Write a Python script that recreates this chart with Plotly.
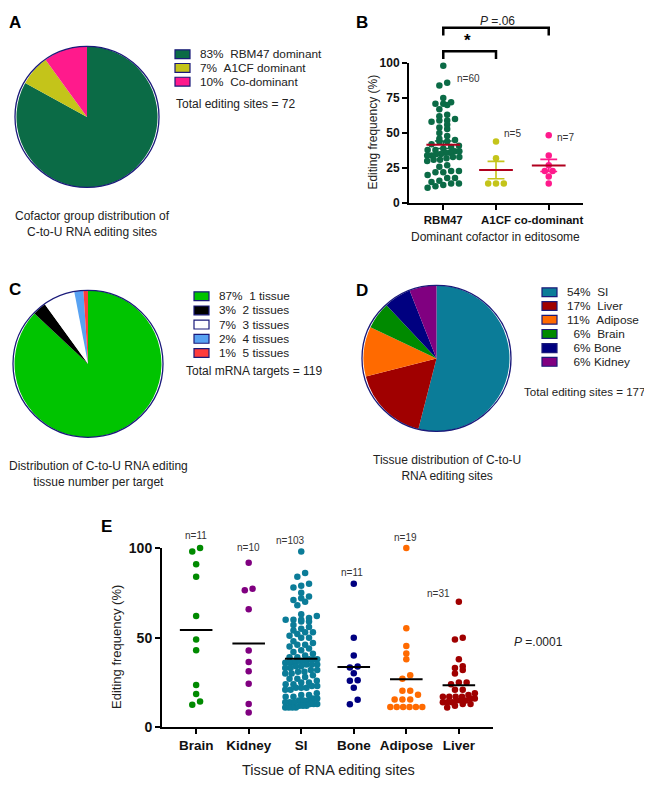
import numpy as np
import plotly.graph_objects as go

W, H = 652, 789
OFF = 8  # page body margin: the figure is drawn 8px right/down of the page corner
FONT = "Liberation Sans, Arial, sans-serif"

# A: cofactor group distribution
cofactor_groups = ["RBM47 dominant", "A1CF dominant", "Co-dominant"]
cofactor_pct = [83, 7, 10]
cofactor_colors = ["#0b6b46", "#c4c41a", "#ff1a8c"]
cofactor_total = 72

# B: editing frequency by dominant cofactor
b_categories = ["RBM47", "A1CF", "co-dominant"]
b_rbm47 = [98, 86, 84, 75, 72, 71, 71, 70, 67, 63,
           62, 60, 59, 59, 58, 56, 54, 53, 50, 48,
           46, 45, 44, 44, 42, 41, 40, 39, 38, 38,
           37, 37, 36, 36, 35, 35, 34, 34, 33, 33,
           32, 31, 31, 30, 27, 26, 23, 23, 22, 22,
           20, 18, 18, 16, 15, 14, 14, 13, 12, 11]
b_a1cf = [44, 32, 14, 14, 14]
b_codom = [48.5, 34, 27, 23, 23, 19, 14]
b_colors = ["#0b6b46", "#c4c41a", "#ff1a8c"]
b_ntext = ["n=60", "n=5", "n=7"]

# C: number of tissues per target
tissue_count_labels = ["1 tissue", "2 tissues", "3 tissues", "4 tissues", "5 tissues"]
tissue_count_pct = [87, 3, 7, 2, 1]
tissue_count_colors = ["#00c400", "#000000", "#ffffff", "#58a2f2", "#ff3c3c"]
mrna_total = 119

# D: tissue distribution
tissues = ["SI", "Liver", "Adipose", "Brain", "Bone", "Kidney"]
tissue_pct = [54, 17, 11, 6, 6, 6]
tissue_legend = ["54%\u00a0\u00a0SI", "17%\u00a0\u00a0Liver", "11%\u00a0\u00a0Adipose",
                 "\u00a0\u00a06%\u00a0\u00a0Brain", "\u00a0\u00a06%\u00a0Bone", "\u00a0\u00a06%\u00a0Kidney"]
tissue_colors = {"SI": "#0b7c98", "Liver": "#a00000", "Adipose": "#ff6a00",
                 "Brain": "#008a00", "Bone": "#000080", "Kidney": "#800080"}
sites_total = 177

# E: editing frequency by tissue
e_categories = ["Brain", "Kidney", "SI", "Bone", "Adipose", "Liver"]
e_brain = [100, 98, 91, 84, 62, 49, 43, 23.6, 18.6, 14.4, 12.6]
e_kidney = [91.8, 77.3, 76.4, 65.8, 42.8, 36.4, 31.3, 24.3, 13, 8.2]
e_si = [98, 86, 84, 80, 79, 78, 75, 73, 72, 71, 70, 68,
        63, 62, 61, 60, 60, 60, 59, 59,
        57, 56, 55, 54, 53, 53, 52, 51, 50, 50,
        48, 47, 46, 46, 45, 44, 43, 42, 41, 40,
        39, 39, 38, 38, 38, 37, 37, 37, 36, 36, 36, 35, 35, 35, 34, 34, 33, 33, 32, 32, 31, 31, 30, 30,
        29, 28, 27, 27, 26, 25, 25, 24, 24, 23, 23, 22, 22, 21, 21, 22,
        19, 18, 18, 17, 17, 16, 16, 15, 15, 15, 14, 14, 14, 13, 13, 13, 12, 12, 12, 11, 11, 11, 11]
e_bone = [80, 50, 40, 33.9, 33.3, 30.2, 26.2, 25.9, 22, 15.3, 12.9]
e_adipose = [100, 55.2, 45.4, 41.2, 38, 29, 27, 20.4, 20.4, 18.2,
             15.5, 15.5, 15.5, 11.3, 11.3, 11.3, 11.3, 11.3, 11.3]
e_liver = [70, 50, 49, 38, 34, 33, 32, 30, 25, 25,
           24, 21, 21, 19, 18, 17, 17, 17, 17, 16,
           16, 15, 15, 15, 14, 14, 14, 13, 13, 12, 11]
e_ntext = ["n=11", "n=10", "n=103", "n=11", "n=19", "n=31"]


def fx(x):
    return (x - OFF) / W


def fy(y):
    return 1 - (y - OFF) / H


def swarm(values, px_unit, px_cat, dot=6.5, half=16):
    """Row-wise scatter offsets (in category units), GraphPad style."""
    vals = np.asarray(values, float)
    order = np.argsort(vals)
    offs = np.zeros(len(vals))
    groups, cur, start = [], [], None
    for i in order:
        y = vals[i] * px_unit
        if start is None or y - start > dot * 0.8:
            if cur:
                groups.append(cur)
            cur, start = [i], y
        else:
            cur.append(i)
    groups.append(cur)
    for g in groups:
        k = len(g)
        if k > 1:
            step = min(dot + 1.3, 2 * half / (k - 1))
            offs[g] = (np.arange(k) - (k - 1) / 2) * step
    return offs / px_cat


fig = go.Figure()

# ---- pies
pie_common = dict(sort=False, direction="clockwise", rotation=0, textinfo="none",
                  showlegend=False, marker_line_width=0)
fig.add_trace(go.Pie(values=cofactor_pct, labels=cofactor_groups,
                     marker_colors=cofactor_colors,
                     domain=dict(x=[fx(15), fx(159)], y=[fy(183), fy(39)]), **pie_common))
fig.add_trace(go.Pie(values=tissue_count_pct, labels=tissue_count_labels,
                     marker_colors=tissue_count_colors,
                     domain=dict(x=[fx(13), fx(163)], y=[fy(438), fy(288)]), **pie_common))
fig.add_trace(go.Pie(values=tissue_pct, labels=tissues,
                     marker_colors=[tissue_colors[t] for t in tissues],
                     domain=dict(x=[fx(362), fx(511)], y=[fy(432), fy(283)]), **pie_common))

shapes = []
for x0, y0, x1, y1 in [(15, 39, 159, 183), (13, 288, 163, 438), (362, 283, 511, 432)]:
    shapes.append(dict(type="circle", xref="paper", yref="paper",
                       x0=fx(x0), x1=fx(x1), y0=fy(y1), y1=fy(y0),
                       line=dict(color="#1a1a7a", width=1.3)))

annotations = []


def txt(x, y, text, size=12, anchor="left", color="#222", **kw):
    annotations.append(dict(x=fx(x), y=fy(y), xref="paper", yref="paper", text=text,
                            showarrow=False, xanchor=anchor, yanchor="middle", borderpad=0,
                            font=dict(family=FONT, size=size, color=color), **kw))


def legend(x_box, x_text, rows_y, colors, labels):
    for y, c, lab in zip(rows_y, colors, labels):
        shapes.append(dict(type="rect", xref="paper", yref="paper",
                           x0=fx(x_box), x1=fx(x_box + 15), y0=fy(y + 4.5), y1=fy(y - 4.5),
                           fillcolor=c, line=dict(color="#1a1a7a", width=1.2)))
        txt(x_text, y, lab, size=11.8)


legend(175, 199, [47, 61, 75], cofactor_colors,
       [f"{p}%\u00a0\u00a0{g}" for p, g in zip(cofactor_pct, cofactor_groups)])
txt(175, 98, f"Total editing sites = {cofactor_total}")

legend(194, 218, [294, 308.5, 323, 337.5, 352], tissue_count_colors,
       [f"{p}%\u00a0\u00a0{g}" for p, g in zip(tissue_count_pct, tissue_count_labels)])
txt(185, 370, f"Total mRNA targets = {mrna_total}")

legend(542, 566, [290, 304, 318, 332.5, 347, 361], [tissue_colors[t] for t in tissues], tissue_legend)
txt(523, 391, f"Total editing sites = {sites_total}", size=11.6)

# captions
txt(92, 220, "Cofactor group distribution of<br>C-to-U RNA editing sites", anchor="center")
txt(98, 475, "Distribution of C-to-U RNA editing<br>tissue number per target", anchor="center")
txt(447, 469, "Tissue distribution of C-to-U<br>RNA editing sites", anchor="center")

# panel letters
for lx, ly, lt in [(8, 15, "A"), (355, 15, "B"), (8, 287, "C"), (355, 288, "D"), (100, 529, "E")]:
    txt(lx, ly, f"<b>{lt}</b>", size=17, color="#000")


# ---- scatter panels
def dot_panel(groups, colors, xa, ya, px_unit, px_cat, mean_color, mean_half, show_sem):
    for i, (vals, col) in enumerate(zip(groups, colors)):
        vals = np.asarray(vals, float)
        offs = swarm(vals, px_unit, px_cat)
        fig.add_trace(go.Scatter(x=i + offs, y=vals, mode="markers", xaxis=xa, yaxis=ya,
                                 marker=dict(size=6.5, color=col), cliponaxis=False,
                                 showlegend=False))
        m = vals.mean()
        if show_sem:
            s = vals.std(ddof=1) / np.sqrt(len(vals))
            c = 0.16
            fig.add_trace(go.Scatter(
                x=[i - c, i + c, None, i, i, None, i - c, i + c],
                y=[m + s, m + s, None, m + s, m - s, None, m - s, m - s],
                mode="lines", line=dict(color=col, width=1.6), xaxis=xa, yaxis=ya,
                showlegend=False, hoverinfo="skip"))
        fig.add_trace(go.Scatter(x=[i - mean_half, i + mean_half], y=[m, m], mode="lines",
                                 line=dict(color=mean_color, width=2), xaxis=xa, yaxis=ya,
                                 showlegend=False, hoverinfo="skip"))


dot_panel([b_rbm47, b_a1cf, b_codom], b_colors, "x", "y", 1.43, 52.5, "#b0001e", 0.32, True)
e_groups = [e_brain, e_kidney, e_si, e_bone, e_adipose, e_liver]
dot_panel(e_groups, [tissue_colors[t] for t in e_categories], "x2", "y2", 1.83, 52.6,
          "#000000", 0.31, False)


def axis(size, **kw):
    return dict(showline=True, linecolor="#000", linewidth=2, ticks="outside",
                tickwidth=2, tickcolor="#000", ticklen=5, showgrid=False, zeroline=False,
                tickangle=0,
                tickfont=dict(family=FONT, size=size, color="#111", weight="bold"), **kw)


fig.update_layout(
    xaxis=axis(11.5, domain=[fx(409), fx(583)], range=[-0.65, 2.65], anchor="y",
               tickvals=[0, 1, 2], ticktext=b_categories),
    yaxis=axis(12, domain=[fy(199), fy(56)], range=[0, 100], anchor="x",
               tickvals=[0, 25, 50, 75, 100]),
    xaxis2=axis(13.5, domain=[fx(162), fx(493)], range=[-0.65, 5.65], anchor="y2",
                tickvals=list(range(6)), ticktext=e_categories),
    yaxis2=axis(14, domain=[fy(734), fy(551)], range=[0, 100], anchor="x2",
                tickvals=[0, 50, 100]),
)

# B texts
txt(495, 234, "Dominant cofactor in editosome", size=12, anchor="center")
txt(373, 127, "Editing frequency (%)", size=12, anchor="center", textangle=-90)
txt(497, 13, "<i>P</i> =.06", size=12, anchor="center")
txt(467, 33, "<b>*</b>", size=17, anchor="center", color="#000")
txt(468, 72, b_ntext[0], size=10, anchor="center", color="#333")
txt(512, 128, b_ntext[1], size=10, anchor="center", color="#333")
txt(565, 132, b_ntext[2], size=10, anchor="center", color="#333")

# significance brackets (B)
for xa, xb, ytop in [(0, 2, 20), (0, 1, 44)]:
    shapes.append(dict(type="path", xref="x", yref="paper",
                       path=f"M {xa},{fy(ytop + 8)} L {xa},{fy(ytop)} L {xb},{fy(ytop)} L {xb},{fy(ytop + 8)}",
                       line=dict(color="#000", width=2.5)))

# E texts
txt(328, 778, "Tissue of RNA editing sites", size=14.5, anchor="center")
txt(117, 652, "Editing frequency (%)", size=13, anchor="center", textangle=-90)
txt(513, 647, "<i>P</i> =.0001", size=12)
for (x, y), t in zip([(196, 538), (248, 551), (290, 543), (352, 576), (405, 540), (438, 597)], e_ntext):
    txt(x, y, t, size=10, anchor="center", color="#333")

fig.update_layout(width=W, height=H, margin=dict(l=0, r=0, t=0, b=0),
                  paper_bgcolor="white", plot_bgcolor="white",
                  shapes=shapes, annotations=annotations,
                  font=dict(family=FONT))

fig.write_html("out.html")
